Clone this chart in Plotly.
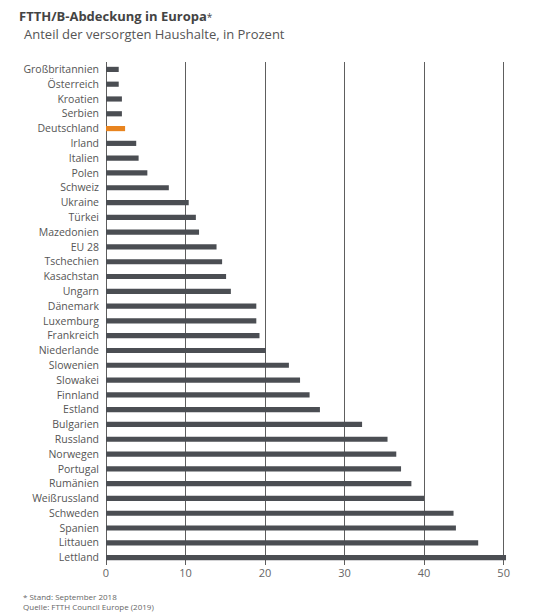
import plotly.graph_objects as go

# FTTH/B coverage in Europe, share of households (percent), Sept 2018
countries = ["Großbritannien", "Österreich", "Kroatien", "Serbien", "Deutschland",
             "Irland", "Italien", "Polen", "Schweiz", "Ukraine", "Türkei",
             "Mazedonien", "EU 28", "Tschechien", "Kasachstan", "Ungarn",
             "Dänemark", "Luxemburg", "Frankreich", "Niederlande", "Slowenien",
             "Slowakei", "Finnland", "Estland", "Bulgarien", "Russland",
             "Norwegen", "Portugal", "Rumänien", "Weißrussland", "Schweden",
             "Spanien", "Littauen", "Lettland"]
coverage = [1.6, 1.6, 2.0, 2.0, 2.4,
            3.8, 4.1, 5.2, 7.9, 10.4, 11.3,
            11.7, 13.9, 14.6, 15.1, 15.7,
            18.9, 18.9, 19.3, 20.1, 23.0,
            24.4, 25.6, 26.9, 32.2, 35.4,
            36.5, 37.1, 38.4, 40.0, 43.7,
            44.0, 46.8, 50.3]
x_ticks = [0, 10, 20, 30, 40, 50]

highlight = "Deutschland"
colors = ["#e8841f" if c == highlight else "#4b4e53" for c in countries]

W, H = 540, 616
m_l, m_r, m_t, m_b = 106, 30, 62, 51

fig = go.Figure()
fig.add_trace(go.Bar(
    x=coverage,
    y=countries,
    orientation="h",
    marker=dict(color=colors, line=dict(width=0)),
    hoverinfo="x+y",
))

fig.update_layout(
    width=W, height=H,
    margin=dict(l=m_l, r=m_r, t=m_t, b=m_b),
    paper_bgcolor="white",
    plot_bgcolor="white",
    showlegend=False,
    bargap=0.65,
    font=dict(family="Open Sans, Lato, sans-serif", color="#555555"),
    xaxis=dict(
        range=[0, 50.8],
        tickvals=x_ticks,
        showgrid=True, gridcolor="#5e5e5e", gridwidth=1,
        zeroline=True, zerolinecolor="#5e5e5e", zerolinewidth=1,
        showline=False,
        tickfont=dict(size=11, color="#666666"),
        ticks="", ticklen=0,
        fixedrange=True,
    ),
    yaxis=dict(
        autorange="reversed",
        showgrid=False,
        ticks="", ticklen=0,
        ticklabelstandoff=6,
        tickfont=dict(size=10.5, color="#555555"),
        fixedrange=True,
    ),
)

plot_h = H - m_t - m_b
plot_w = W - m_l - m_r

# screen pixel -> paper coordinate
def px_x(px):
    return (px - m_l) / plot_w

def px_y(py):
    return (H - m_b - py) / plot_h

fig.add_annotation(text="<b>FTTH/B-Abdeckung in Europa</b><span style='font-size:10px'>*</span>",
                   xref="paper", yref="paper", x=px_x(18), y=px_y(16.5),
                   xanchor="left", yanchor="middle", showarrow=False, borderpad=0,
                   font=dict(size=13, color="#444444"))
fig.add_annotation(text="Anteil der versorgten Haushalte, in Prozent",
                   xref="paper", yref="paper", x=px_x(23), y=px_y(33.5),
                   xanchor="left", yanchor="middle", showarrow=False, borderpad=0,
                   font=dict(size=13, color="#555555"))
fig.add_annotation(text="* Stand: September 2018<br>Quelle: FTTH Council Europe (2019)",
                   xref="paper", yref="paper", x=px_x(21), y=px_y(601),
                   xanchor="left", yanchor="middle", align="left", showarrow=False,
                   font=dict(size=8, color="#666666"))

# drop the default 8px body margin so the figure fills the window
fig.write_html("out.html", config={"displayModeBar": False},
               post_script="document.body.style.margin='0px';")
